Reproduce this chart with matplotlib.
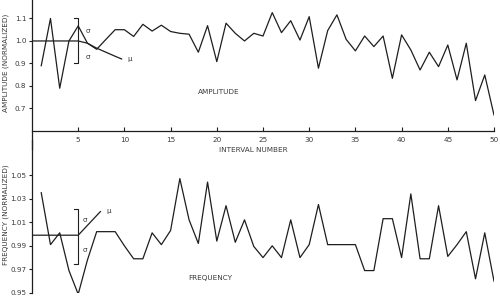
import numpy as np
import matplotlib
matplotlib.use("Agg")
import matplotlib.pyplot as plt

# interval numbers 1..50
interval = list(range(1, 51))

amplitude = [0.89, 1.10, 0.79, 1.00, 1.067, 0.99, 0.963, 1.007, 1.05, 1.05,
             1.02, 1.074, 1.044, 1.07, 1.042, 1.034, 1.03, 0.95, 1.068, 0.908,
             1.079, 1.034, 1.00, 1.034, 1.022, 1.126, 1.037, 1.09, 1.004, 1.108,
             0.879, 1.046, 1.116, 1.007, 0.956, 1.022, 0.975, 1.022, 0.834, 1.027,
             0.96, 0.871, 0.95, 0.886, 0.982, 0.827, 0.99, 0.735, 0.849, 0.671]

frequency = [1.035, 0.991, 1.001, 0.969, 0.949, 0.978, 1.002, 1.002, 1.002, 0.99,
             0.979, 0.979, 1.001, 0.991, 1.003, 1.047, 1.012, 0.992, 1.044, 0.994,
             1.024, 0.993, 1.012, 0.9895, 0.980, 0.990, 0.980, 1.012, 0.980, 0.991,
             1.025, 0.991, 0.991, 0.991, 0.991, 0.969, 0.969, 1.013, 1.013, 0.980,
             1.034, 0.979, 0.979, 1.024, 0.981, 0.991, 1.002, 0.962, 1.001, 0.960]

# mean (mu) curves
amp_mu_x = [0, 5, 6, 7, 8, 9, 9.7]
amp_mu_y = [1.0, 1.0, 0.99, 0.968, 0.95, 0.932, 0.92]
freq_mu_x = [0, 5, 7.4]
freq_mu_y = [0.999, 0.999, 1.019]

# sigma brackets (x, low, high)
amp_sigma = (5, 0.90, 1.10)
freq_sigma = (5, 0.975, 1.021)

amp_ticks = [0.7, 0.8, 0.9, 1.0, 1.1]
freq_ticks = [0.95, 0.97, 0.99, 1.01, 1.03, 1.05]
x_ticks = [5, 10, 15, 20, 25, 30, 35, 40, 45, 50]

linec = "#1e1e1e"
textc = "#3a3a3a"
fs = 5.2
lw = 0.9

fig = plt.figure(figsize=(5, 2.98), dpi=100)
plt.rcParams['font.family'] = ['DejaVu Sans']

# ---- top: amplitude
ax1 = fig.add_axes([0.064, 0.5, 0.924, 0.5])
ax1.patch.set_alpha(0)
ax1.plot(interval, amplitude, color=linec, lw=lw)
ax1.plot(amp_mu_x, amp_mu_y, color=linec, lw=lw)
sx, slo, shi = amp_sigma
ax1.plot([sx - 0.45, sx, sx, sx - 0.45], [shi, shi, slo, slo], color=linec, lw=0.8)
ax1.text(sx + 0.8, 1.045, "σ", fontsize=fs, color=textc, ha="left", va="center")
ax1.text(sx + 0.8, 0.93, "σ", fontsize=fs, color=textc, ha="left", va="center")
ax1.text(amp_mu_x[-1] + 0.6, amp_mu_y[-1], "μ", fontsize=fs, color=textc, ha="left", va="center")
ax1.text(20.2, 0.775, "AMPLITUDE", fontsize=fs, color=textc, ha="center", va="center")

ax1.set_xlim(0, 50)
ax1.set_ylim(0.52, 1.182)
ax1.spines['top'].set_visible(False)
ax1.spines['right'].set_visible(False)
ax1.spines['bottom'].set_position(('data', 0.6))
for s in ax1.spines.values():
    s.set_color(linec)
    s.set_linewidth(0.9)
ax1.set_xticks(x_ticks)
ax1.set_xticklabels([str(t) for t in x_ticks])
ax1.set_yticks(amp_ticks)
ax1.set_yticklabels(["%.1f" % t for t in amp_ticks])
ax1.tick_params(axis='x', direction='in', length=3, width=0.8, pad=4,
                labelsize=fs, colors=linec, labelcolor=textc)
ax1.tick_params(axis='y', direction='out', length=2.5, width=0.8, pad=1.5,
                labelsize=fs, colors=linec, labelcolor=textc)

# ---- bottom: frequency
ax2 = fig.add_axes([0.064, 0.0168, 0.924, 0.513])
ax2.patch.set_alpha(0)
ax2.plot(interval, frequency, color=linec, lw=lw)
ax2.plot(freq_mu_x, freq_mu_y, color=linec, lw=lw)
sx, slo, shi = freq_sigma
ax2.plot([sx - 0.45, sx, sx, sx - 0.45], [shi, shi, slo, slo], color=linec, lw=0.8)
ax2.text(sx + 0.5, 1.0115, "σ", fontsize=fs, color=textc, ha="left", va="center")
ax2.text(sx + 0.5, 0.9865, "σ", fontsize=fs, color=textc, ha="left", va="center")
ax2.text(freq_mu_x[-1] + 0.6, freq_mu_y[-1] + 0.0005, "μ", fontsize=fs, color=textc, ha="left", va="center")
ax2.text(19.3, 0.9625, "FREQUENCY", fontsize=fs, color=textc, ha="center", va="center")

ax2.set_xlim(0, 50)
ax2.set_ylim(0.95, 1.0796)
for k in ['top', 'right', 'bottom']:
    ax2.spines[k].set_visible(False)
ax2.spines['left'].set_color(linec)
ax2.spines['left'].set_linewidth(0.9)
ax2.set_xticks([])
ax2.set_yticks(freq_ticks)
ax2.set_yticklabels(["%.2f" % t for t in freq_ticks])
ax2.tick_params(axis='y', direction='out', length=2.5, width=0.8, pad=1.5,
                labelsize=fs, colors=linec, labelcolor=textc)

# labels
fig.text(253 / 500, 1 - 150 / 298, "INTERVAL NUMBER", fontsize=fs, color=textc,
         ha="center", va="center")
fig.text(6 / 500, 1 - 63 / 298, "AMPLITUDE (NORMALIZED)", fontsize=fs, color=textc,
         ha="center", va="center", rotation=90)
fig.text(6 / 500, 1 - 215 / 298, "FREQUENCY (NORMALIZED)", fontsize=fs, color=textc,
         ha="center", va="center", rotation=90)

fig.savefig("out.png", dpi=100)
